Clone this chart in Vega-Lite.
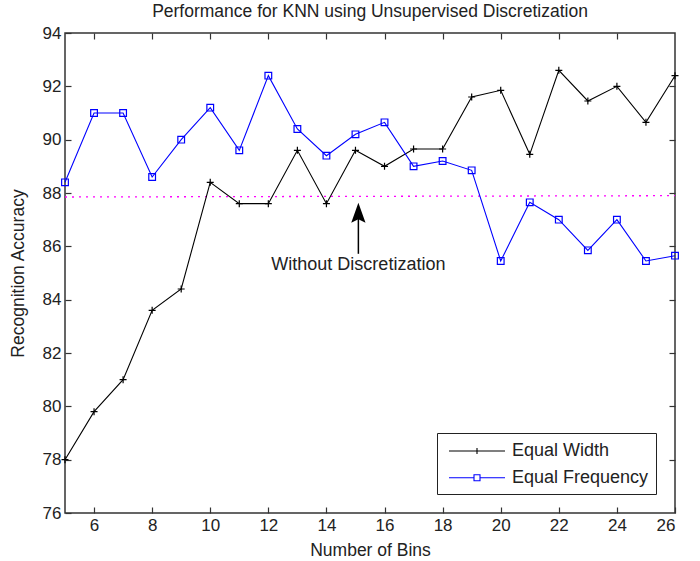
{
  "$schema": "https://vega.github.io/schema/vega-lite/v6.json",
  "width": 610,
  "height": 480,
  "autosize": {"type": "none"},
  "padding": {"left": 65, "top": 33, "right": 25, "bottom": 48},
  "background": "white",
  "title": {"text": "Performance for KNN using Unsupervised Discretization", "font": "Liberation Sans", "fontSize": 17.5, "fontWeight": "normal", "color": "#222", "offset": 4, "anchor": "middle"},
  "config": {
    "view": {"stroke": "#333", "strokeWidth": 1.5},
    "axis": {"domain": false, "grid": false, "tickColor": "#333", "tickSize": -6, "tickWidth": 1.2, "labelFont": "Liberation Sans", "labelFontSize": 17, "labelColor": "#222", "titleFont": "Liberation Sans", "titleFontSize": 17.5, "titleFontWeight": "normal", "titleColor": "#222"}
  },
  "datasets": {
    "acc": [
      {"bins": 5, "series": "Equal Width", "acc": 78.0},
      {"bins": 6, "series": "Equal Width", "acc": 79.8},
      {"bins": 7, "series": "Equal Width", "acc": 81.0},
      {"bins": 8, "series": "Equal Width", "acc": 83.6},
      {"bins": 9, "series": "Equal Width", "acc": 84.4},
      {"bins": 10, "series": "Equal Width", "acc": 88.4},
      {"bins": 11, "series": "Equal Width", "acc": 87.6},
      {"bins": 12, "series": "Equal Width", "acc": 87.6},
      {"bins": 13, "series": "Equal Width", "acc": 89.6},
      {"bins": 14, "series": "Equal Width", "acc": 87.6},
      {"bins": 15, "series": "Equal Width", "acc": 89.6},
      {"bins": 16, "series": "Equal Width", "acc": 89.0},
      {"bins": 17, "series": "Equal Width", "acc": 89.65},
      {"bins": 18, "series": "Equal Width", "acc": 89.65},
      {"bins": 19, "series": "Equal Width", "acc": 91.6},
      {"bins": 20, "series": "Equal Width", "acc": 91.85},
      {"bins": 21, "series": "Equal Width", "acc": 89.45},
      {"bins": 22, "series": "Equal Width", "acc": 92.6},
      {"bins": 23, "series": "Equal Width", "acc": 91.45},
      {"bins": 24, "series": "Equal Width", "acc": 92.0},
      {"bins": 25, "series": "Equal Width", "acc": 90.65},
      {"bins": 26, "series": "Equal Width", "acc": 92.4},
      {"bins": 5, "series": "Equal Frequency", "acc": 88.4},
      {"bins": 6, "series": "Equal Frequency", "acc": 91.0},
      {"bins": 7, "series": "Equal Frequency", "acc": 91.0},
      {"bins": 8, "series": "Equal Frequency", "acc": 88.6},
      {"bins": 9, "series": "Equal Frequency", "acc": 90.0},
      {"bins": 10, "series": "Equal Frequency", "acc": 91.2},
      {"bins": 11, "series": "Equal Frequency", "acc": 89.6},
      {"bins": 12, "series": "Equal Frequency", "acc": 92.4},
      {"bins": 13, "series": "Equal Frequency", "acc": 90.4},
      {"bins": 14, "series": "Equal Frequency", "acc": 89.4},
      {"bins": 15, "series": "Equal Frequency", "acc": 90.2},
      {"bins": 16, "series": "Equal Frequency", "acc": 90.65},
      {"bins": 17, "series": "Equal Frequency", "acc": 89.0},
      {"bins": 18, "series": "Equal Frequency", "acc": 89.2},
      {"bins": 19, "series": "Equal Frequency", "acc": 88.85},
      {"bins": 20, "series": "Equal Frequency", "acc": 85.45},
      {"bins": 21, "series": "Equal Frequency", "acc": 87.65},
      {"bins": 22, "series": "Equal Frequency", "acc": 87.0},
      {"bins": 23, "series": "Equal Frequency", "acc": 85.85},
      {"bins": 24, "series": "Equal Frequency", "acc": 87.0},
      {"bins": 25, "series": "Equal Frequency", "acc": 85.45},
      {"bins": 26, "series": "Equal Frequency", "acc": 85.65}
    ],
    "baseline": [
      {"bins": 5, "acc": 87.85},
      {"bins": 26, "acc": 87.9}
    ],
    "arrow": [
      {"bins": 15.1, "tip": 87.62, "tail": 85.72, "head": 87.1, "textY": 85.1, "label": "Without Discretization"}
    ]
  },
  "layer": [
    {
      "data": {"name": "baseline"},
      "mark": {"type": "line", "color": "#ff00ff", "strokeDash": [2, 5], "strokeWidth": 1.3},
      "encoding": {
        "x": {"field": "bins", "type": "quantitative", "scale": {"domain": [5, 26], "nice": false, "zero": false}, "axis": {"orient": "top", "labels": false, "title": null, "values": [6, 8, 10, 12, 14, 16, 18, 20, 22, 24]}},
        "y": {"field": "acc", "type": "quantitative", "scale": {"domain": [76, 94], "nice": false, "zero": false}, "axis": {"orient": "right", "labels": false, "title": null, "values": [78, 80, 82, 84, 86, 88, 90, 92]}}
      }
    },
    {
      "data": {"name": "acc"},
      "mark": {"type": "line", "strokeWidth": 1.1},
      "encoding": {
        "x": {"field": "bins", "type": "quantitative", "axis": {"orient": "bottom", "title": "Number of Bins", "values": [6, 8, 10, 12, 14, 16, 18, 20, 22, 24, 26], "labelPadding": 10, "titlePadding": 8}},
        "y": {"field": "acc", "type": "quantitative", "axis": {"orient": "left", "title": "Recognition Accuracy", "values": [76, 78, 80, 82, 84, 86, 88, 90, 92, 94], "labelPadding": 10, "titlePadding": 15}},
        "color": {"field": "series", "type": "nominal", "scale": {"domain": ["Equal Width", "Equal Frequency"], "range": ["#000000", "#0000ff"]}, "legend": {
          "orient": "bottom-right", "offset": 19, "title": null,
          "fillColor": "white", "strokeColor": "#222", "padding": 7,
          "symbolSize": 400, "symbolStrokeWidth": 1.1, "rowPadding": 6.7, "symbolOffset": 22,
          "labelFont": "Liberation Sans", "labelFontSize": 18, "labelColor": "#222", "labelOffset": 24,
          "encode": {"symbols": {"update": {"fill": {"value": "transparent"}, "shape": {"signal": "datum.value === 'Equal Width' ? 'M-2.8,0H2.8M0,-0.3V0.3' : 'M-2.8,0H-0.3M0.3,0H2.8M-0.3,-0.3H0.3V0.3H-0.3Z'"}}}}
        }}
      }
    },
    {
      "data": {"name": "acc"},
      "transform": [{"filter": "datum.series === 'Equal Width'"}],
      "mark": {"type": "point", "filled": false, "strokeWidth": 1.2, "opacity": 1, "shape": "M-1,0H1M0,-1V1", "size": 49},
      "encoding": {
        "x": {"field": "bins", "type": "quantitative", "axis": null},
        "y": {"field": "acc", "type": "quantitative", "axis": null},
        "color": {"field": "series", "type": "nominal", "legend": null}
      }
    },
    {
      "data": {"name": "acc"},
      "transform": [{"filter": "datum.series === 'Equal Frequency'"}],
      "mark": {"type": "point", "filled": false, "strokeWidth": 1.2, "opacity": 1, "shape": "square", "size": 45},
      "encoding": {
        "x": {"field": "bins", "type": "quantitative", "axis": null},
        "y": {"field": "acc", "type": "quantitative", "axis": null},
        "color": {"field": "series", "type": "nominal", "legend": null}
      }
    },
    {
      "data": {"name": "arrow"},
      "mark": {"type": "rule", "color": "black", "strokeWidth": 1.5},
      "encoding": {
        "x": {"field": "bins", "type": "quantitative", "axis": null},
        "y": {"field": "tail", "type": "quantitative", "axis": null},
        "y2": {"field": "head"}
      }
    },
    {
      "data": {"name": "arrow"},
      "mark": {"type": "point", "filled": true, "color": "black", "opacity": 1, "shape": "M0,-1L-0.5,0.4L0,0.15L0.5,0.4Z", "size": 816},
      "encoding": {
        "x": {"field": "bins", "type": "quantitative", "axis": null},
        "y": {"field": "head", "type": "quantitative", "axis": null}
      }
    },
    {
      "data": {"name": "arrow"},
      "mark": {"type": "text", "font": "Liberation Sans", "fontSize": 18, "color": "#222", "align": "center", "baseline": "alphabetic"},
      "encoding": {
        "x": {"field": "bins", "type": "quantitative", "axis": null},
        "y": {"field": "textY", "type": "quantitative", "axis": null},
        "text": {"field": "label"}
      }
    }
  ]
}
